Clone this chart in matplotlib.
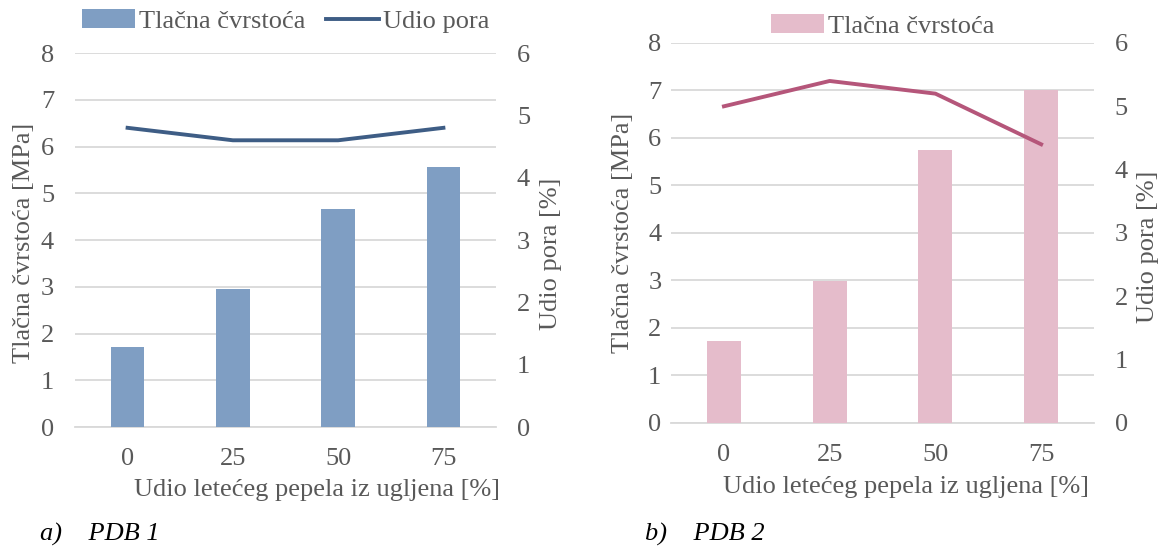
import matplotlib
matplotlib.use("Agg")
import matplotlib.pyplot as plt
import numpy as np

# Data
categories = ["0", "25", "50", "75"]
strength_pdb1 = [1.71, 2.95, 4.66, 5.56]
porosity_pdb1 = [4.80, 4.60, 4.60, 4.80]
strength_pdb2 = [1.73, 2.99, 5.75, 7.00]
porosity_pdb2 = [5.00, 5.40, 5.20, 4.40]
left_ticks = [0, 1, 2, 3, 4, 5, 6, 7, 8]
right_ticks = [0, 1, 2, 3, 4, 5, 6]

TEXT = "#595959"
GRID = "#d9d9d9"
FS = 19

plt.rcParams["font.family"] = ["Liberation Serif", "DejaVu Serif"]
plt.rcParams["font.size"] = FS

fig = plt.figure(figsize=(11.62, 5.46), dpi=100)


def panel(rect, strength, porosity, bar_color, line_color, legend_line,
          legend_y, lpad, rpad, ylab_pos, rlab_pos, xlab_pos):
    ax = fig.add_axes(rect)
    x = np.arange(len(categories))
    bars = ax.bar(x, strength, width=0.32, color=bar_color, zorder=3,
                  label="Tlačna čvrstoća")
    ax.set_xlim(-0.5, len(categories) - 0.5)
    ax.set_ylim(0, 8)
    ax.set_yticks(left_ticks)
    ax.set_xticks(x)
    ax.set_xticklabels(categories)
    ax.grid(axis="y", color=GRID, linewidth=1.3, zorder=0)
    for s in ax.spines.values():
        s.set_visible(False)
    ax.spines["bottom"].set_visible(True)
    ax.spines["bottom"].set_color(GRID)
    ax.spines["bottom"].set_linewidth(1.3)
    ax.tick_params(axis="both", length=0, colors=TEXT, labelsize=FS)
    ax.tick_params(axis="y", pad=lpad)
    ax.tick_params(axis="x", pad=15)
    ax.set_ylabel("Tlačna čvrstoća [MPa]", color=TEXT, fontsize=FS)
    ax.yaxis.set_label_coords(*ylab_pos)
    ax.set_xlabel("Udio letećeg pepela iz ugljena [%]", color=TEXT,
                  fontsize=FS)
    ax.xaxis.set_label_coords(*xlab_pos)

    ax2 = ax.twinx()
    line, = ax2.plot(x, porosity, color=line_color, linewidth=2.8,
                     zorder=4, label="Udio pora")
    ax2.set_ylim(0, 6)
    ax2.set_yticks(right_ticks)
    for s in ax2.spines.values():
        s.set_visible(False)
    ax2.tick_params(axis="y", length=0, colors=TEXT, labelsize=FS, pad=rpad)
    ax2.set_ylabel("Udio pora [%]", color=TEXT, fontsize=FS)
    ax2.yaxis.set_label_coords(*rlab_pos)

    handles = [bars]
    if legend_line:
        handles.append(line)
    ax.legend(handles=handles, loc="center", ncol=2, frameon=False,
              bbox_to_anchor=(0.5, legend_y), fontsize=FS,
              handlelength=2.0, handletextpad=0.15, columnspacing=0.8,
              labelcolor=TEXT)
    return ax


panel([0.0645, 0.2179, 0.3624, 0.685], strength_pdb1, porosity_pdb1,
      "#7f9ec3", "#3e5d85", True, 1.085, 15, 15,
      (-0.095, 0.492), (1.105, 0.463), (0.575, -0.14))

panel([0.5775, 0.2253, 0.364, 0.696], strength_pdb2, porosity_pdb2,
      "#e5bccb", "#b5567a", False, 1.045, 7, 15,
      (-0.087, 0.5), (1.102, 0.463), (0.556, -0.14))

fig.text(40 / 1162, 1 - 534 / 546, "a)    PDB 1", style="italic",
         fontsize=FS, color="black", va="center", ha="left")
fig.text(645 / 1162, 1 - 534 / 546, "b)    PDB 2", style="italic",
         fontsize=FS, color="black", va="center", ha="left")

fig.savefig("out.png", dpi=100)
